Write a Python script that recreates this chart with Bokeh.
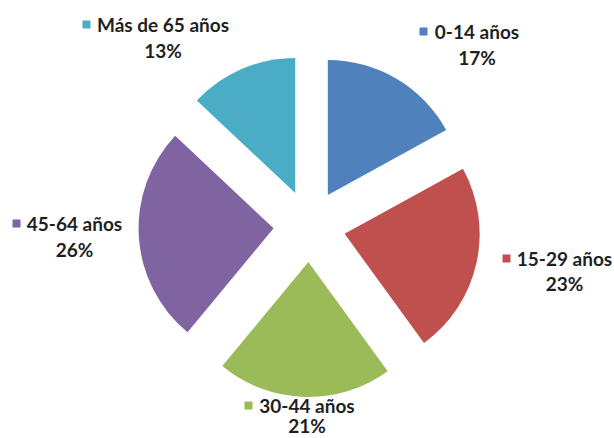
import math
from bokeh.plotting import figure
from bokeh.models import ColumnDataSource, Range1d
from bokeh.core.properties import value
from bokeh.embed import file_html
from bokeh.resources import INLINE

# ---- data ----
categories = ["0-14 años", "15-29 años", "30-44 años", "45-64 años", "Más de 65 años"]
shares = [17, 23, 21, 26, 13]
pct_labels = ["17%", "23%", "21%", "26%", "13%"]
colors = ["#4F81BD", "#C0504D", "#9BBB59", "#8064A2", "#4BACC6"]

# ---- layout (page pixels) ----
W, H = 614, 438
PAGE_OFF = 0
CENTER = (309, 225.5)   # pie centre on the page
RADIUS = 135
EXPLODE = 36
# name text span (left, right), name line y, percent line y  -- page pixels
label_layout = [
    (435, 518, 31, 57),
    (518, 610, 258, 283),
    (260, 353, 405, 425),
    (28, 120, 223, 249),
    (98, 227, 24, 50),
]
FONT = "Lato"
FONT_SIZE = "19px"
TEXT_COLOR = "#1f1f1f"


def fx(px):
    return px - PAGE_OFF


def fy(py):
    return H - (py - PAGE_OFF)


cx, cy = fx(CENTER[0]), fy(CENTER[1])
total = float(sum(shares))
xs, ys, starts, ends = [], [], [], []
cum = 0.0
for s in shares:
    a0 = math.pi / 2 - 2 * math.pi * cum / total
    a1 = math.pi / 2 - 2 * math.pi * (cum + s) / total
    mid = (a0 + a1) / 2
    xs.append(cx + EXPLODE * math.cos(mid))
    ys.append(cy + EXPLODE * math.sin(mid))
    starts.append(a0)
    ends.append(a1)
    cum += s

src = ColumnDataSource(dict(x=xs, y=ys, start=starts, end=ends, color=colors))

p = figure(width=W, height=H, x_range=Range1d(0, W), y_range=Range1d(0, H),
           output_backend="svg", toolbar_location=None,
           x_axis_type=None, y_axis_type=None,
           min_border=0, min_border_left=0, min_border_right=0,
           min_border_top=0, min_border_bottom=0)
p.grid.visible = False
p.outline_line_color = None
p.background_fill_color = "white"
p.border_fill_color = "white"

p.wedge(x="x", y="y", radius=RADIUS, start_angle="start", end_angle="end",
        direction="clock", fill_color="color", line_color=None, source=src)

name_x, name_y, pct_y, sq_x = [], [], [], []
for (l, r, yn, yp) in label_layout:
    name_x.append(fx((l + r) / 2))
    name_y.append(fy(yn))
    pct_y.append(fy(yp))
    sq_x.append(fx(l - 12))

lab = ColumnDataSource(dict(nx=name_x, ny=name_y, py=pct_y, sx=sq_x,
                            name=categories, pct=pct_labels, color=colors))

p.scatter(x="sx", y="ny", marker="square", size=8, fill_color="color",
          line_color=None, source=lab)
p.text(x="nx", y="ny", text="name", source=lab, text_font=value(FONT),
       text_font_style="bold", text_font_size=FONT_SIZE, text_color=TEXT_COLOR,
       text_align="center", text_baseline="middle")
p.text(x="nx", y="py", text="pct", source=lab, text_font=value(FONT),
       text_font_style="bold", text_font_size=FONT_SIZE, text_color=TEXT_COLOR,
       text_align="center", text_baseline="middle")

open("out.html", "w").write(file_html(p, INLINE))
